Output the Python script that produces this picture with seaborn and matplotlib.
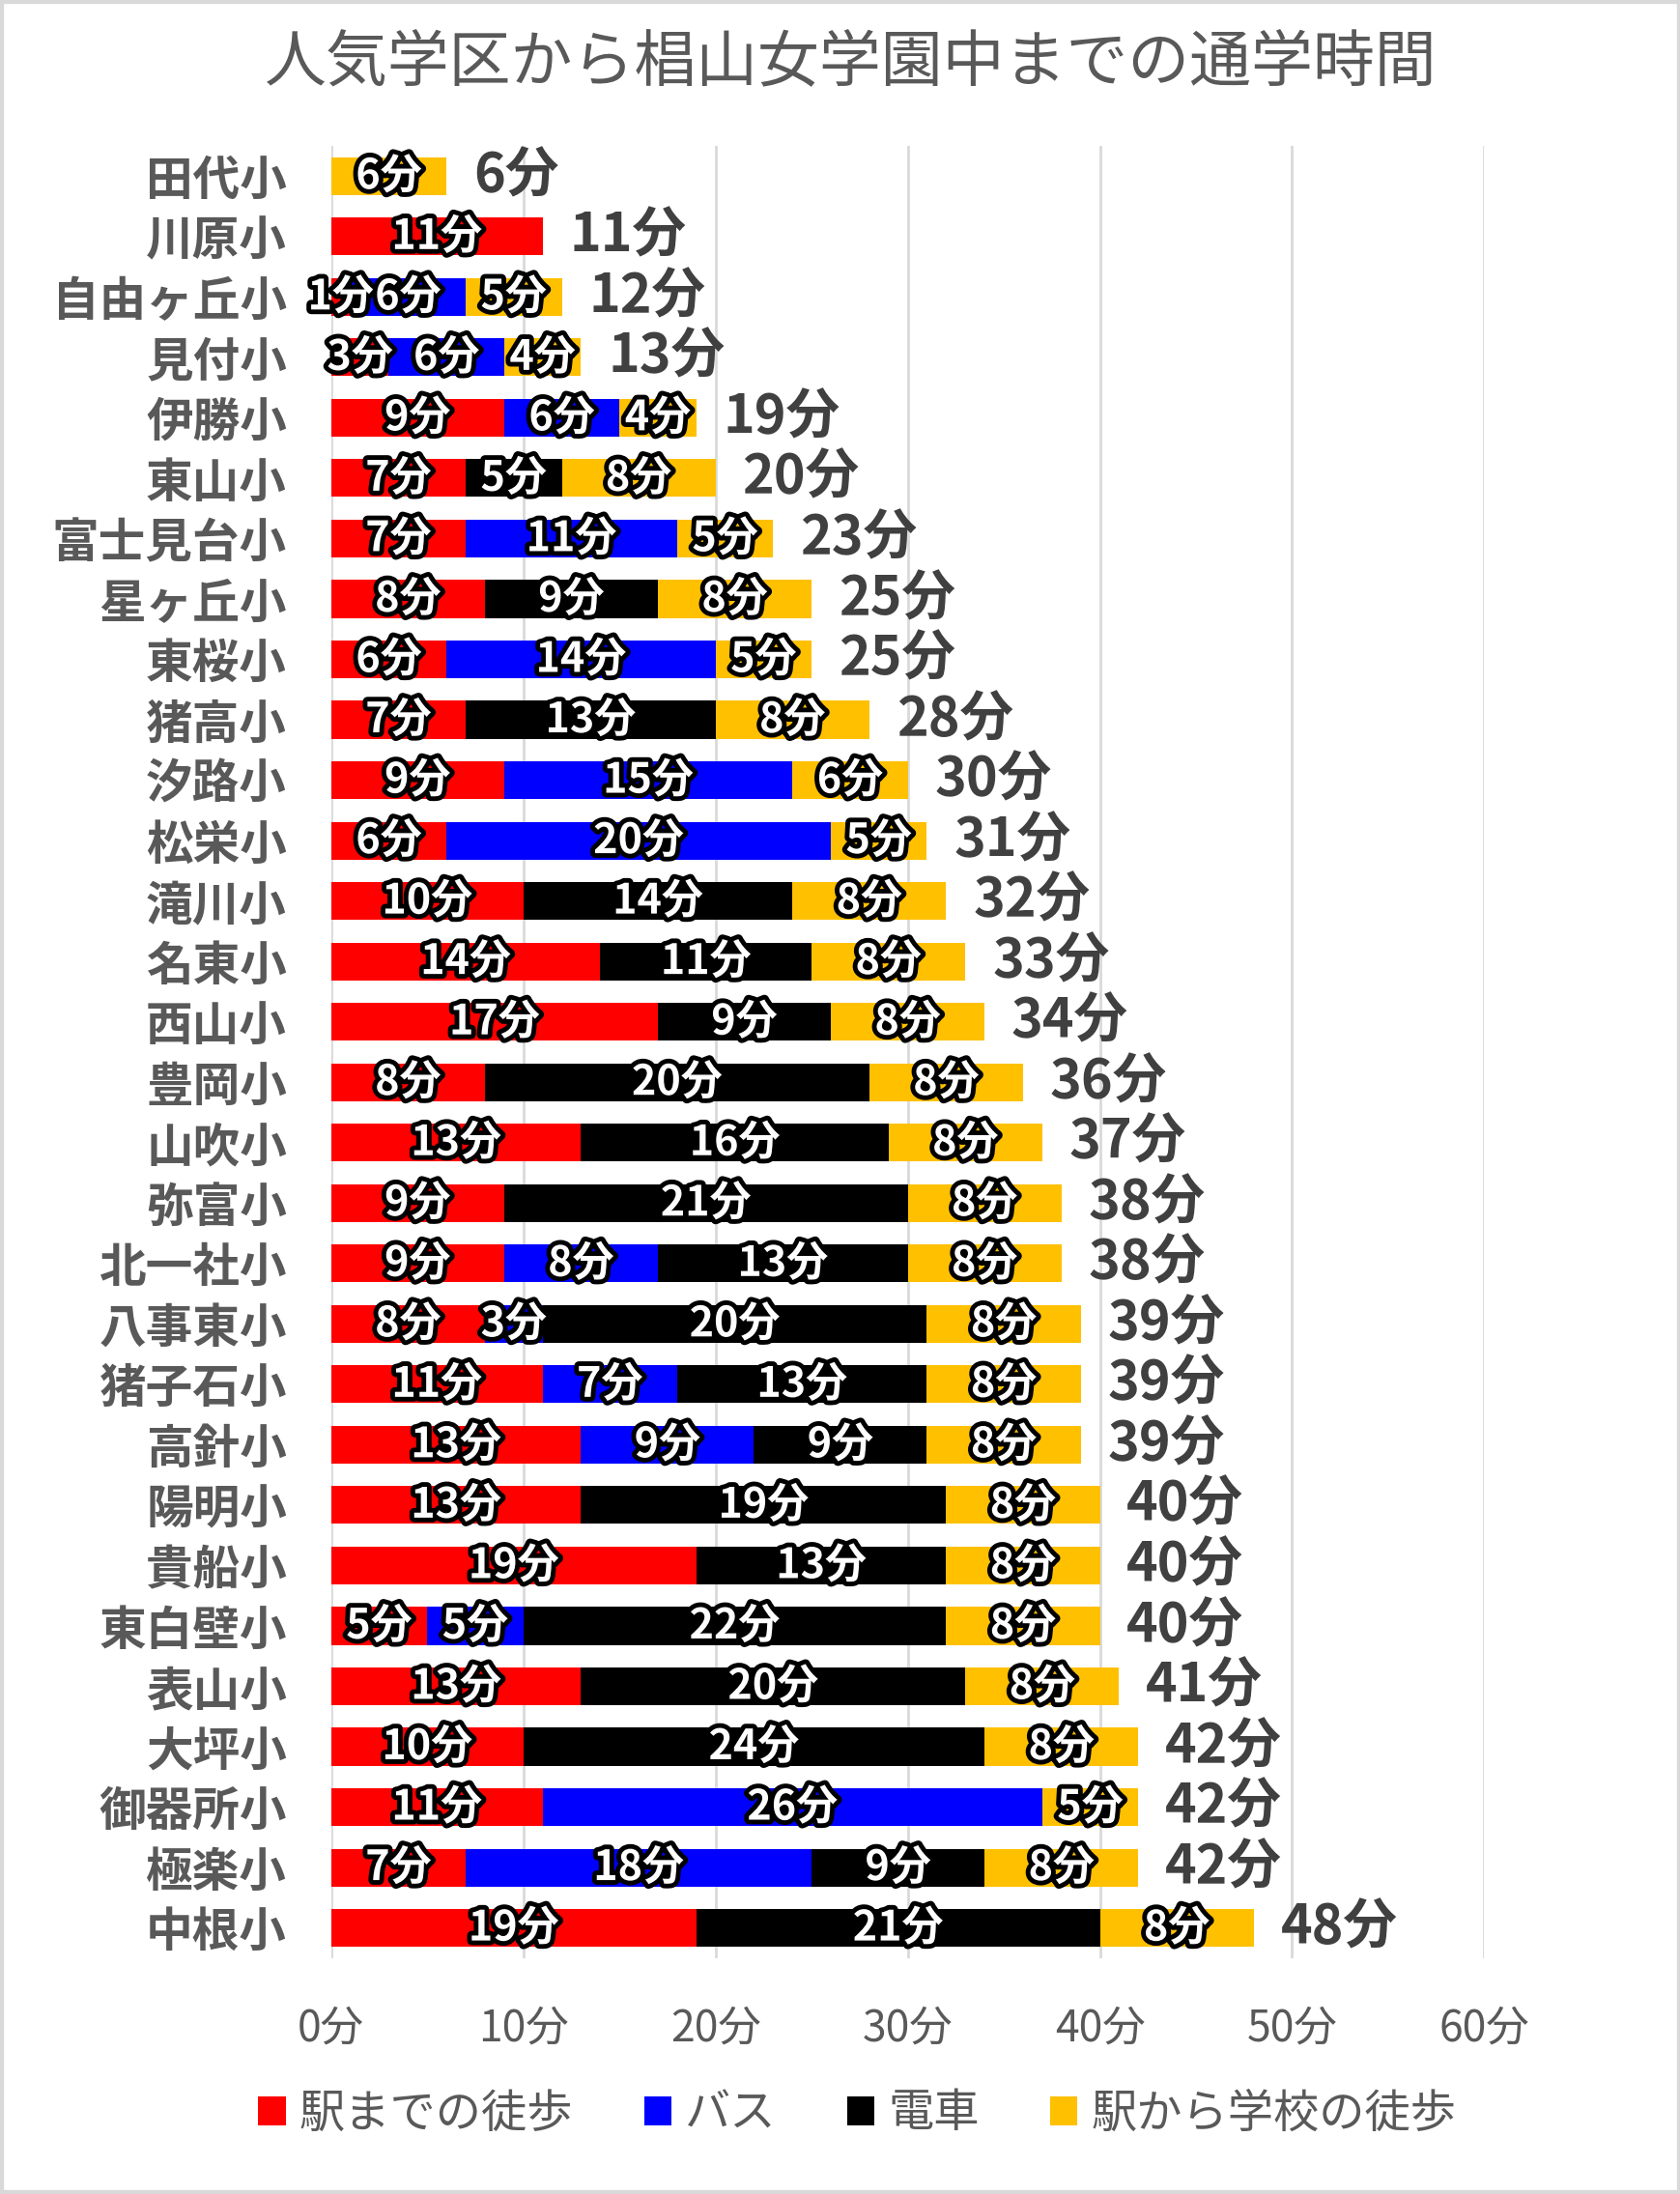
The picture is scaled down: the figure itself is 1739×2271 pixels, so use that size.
import matplotlib
matplotlib.use("Agg")
import matplotlib.pyplot as plt
import matplotlib.patheffects as pe
from matplotlib.patches import Patch, Rectangle
import seaborn as sns
import pandas as pd
import numpy as np

schools = ["田代小", "川原小", "自由ヶ丘小", "見付小", "伊勝小", "東山小", "富士見台小", "星ヶ丘小",
           "東桜小", "猪高小", "汐路小", "松栄小", "滝川小", "名東小", "西山小", "豊岡小", "山吹小",
           "弥富小", "北一社小", "八事東小", "猪子石小", "高針小", "陽明小", "貴船小", "東白壁小",
           "表山小", "大坪小", "御器所小", "極楽小", "中根小"]
walk_to_station = [0, 11, 1, 3, 9, 7, 7, 8, 6, 7, 9, 6, 10, 14, 17, 8, 13, 9, 9, 8, 11, 13, 13, 19, 5, 13, 10, 11, 7, 19]
bus = [0, 0, 6, 6, 6, 0, 11, 0, 14, 0, 15, 20, 0, 0, 0, 0, 0, 0, 8, 3, 7, 9, 0, 0, 5, 0, 0, 26, 18, 0]
train = [0, 0, 0, 0, 0, 5, 0, 9, 0, 13, 0, 0, 14, 11, 9, 20, 16, 21, 13, 20, 13, 9, 19, 13, 22, 20, 24, 0, 9, 21]
walk_to_school = [6, 0, 5, 4, 4, 8, 5, 8, 5, 8, 6, 5, 8, 8, 8, 8, 8, 8, 8, 8, 8, 8, 8, 8, 8, 8, 8, 5, 8, 8]
series_names = ["駅までの徒歩", "バス", "電車", "駅から学校の徒歩"]
colors = ["#FF0000", "#0000FF", "#000000", "#FFC000"]
x_ticks = [0, 10, 20, 30, 40, 50, 60]
x_tick_labels = ["0分", "10分", "20分", "30分", "40分", "50分", "60分"]
title = "人気学区から椙山女学園中までの通学時間"

sns.set_style("white")
plt.rcParams['font.family'] = ['Noto Sans CJK JP', 'DejaVu Sans']

df = pd.DataFrame({"school": schools, "s0": walk_to_station, "s1": bus, "s2": train, "s3": walk_to_school})
segs = ["s0", "s1", "s2", "s3"]
cum = df[segs].cumsum(axis=1)
for k, s in enumerate(segs):
    df["c" + str(k)] = cum[s]

fig = plt.figure(figsize=(17.4, 22.71), dpi=100)
ax = fig.add_axes([0.197, 0.1075, 0.686, 0.826])

for k in [3, 2, 1, 0]:
    sns.barplot(data=df, x="c" + str(k), y="school", orient="h", color=colors[k], saturation=1,
                width=0.625, linewidth=0, edgecolor="none", ax=ax, order=schools)

ax.set_xlim(0, 60)
ax.set_ylim(len(schools) - 0.5, -0.5)
ax.set_xticks(x_ticks)
ax.set_xticklabels(x_tick_labels)
ax.xaxis.grid(True, color="#d9d9d9", linewidth=2)
ax.yaxis.grid(False)
ax.set_axisbelow(True)
for sp in ax.spines.values():
    sp.set_visible(False)
ax.set_xlabel("")
ax.set_ylabel("")
ax.tick_params(axis="y", length=0, pad=33, labelsize=35, labelcolor="#595959")
ax.tick_params(axis="x", length=0, pad=36, labelsize=32, labelcolor="#595959")
for lab in ax.get_yticklabels():
    lab.set_fontweight("bold")

stroke = [pe.withStroke(linewidth=7, foreground="black")]
for i in range(len(schools)):
    left = 0
    for k, s in enumerate(segs):
        v = df.loc[i, s]
        if v > 0:
            ax.text(left + v / 2, i, f"{v}分", ha="center", va="center", color="white",
                    fontsize=31, fontweight="bold", path_effects=stroke, zorder=5)
        left += v
    total = df.loc[i, "c3"]
    ax.annotate(f"{total}分", xy=(total, i), xytext=(20, 0), textcoords="offset points",
                ha="left", va="center", fontsize=40, fontweight="bold", color="#404040", zorder=5)

fig.text(0.506, 0.971, title, ha="center", va="center", fontsize=46, color="#595959")

handles = [Patch(facecolor=c, edgecolor="none") for c in colors]
fig.legend(handles, series_names, loc="center", bbox_to_anchor=(0.51, 0.0365), ncol=4,
           frameon=False, fontsize=34, labelcolor="#595959", handlelength=0.6, handleheight=0.6,
           handletextpad=0.3, columnspacing=1.55)

fig.add_artist(Rectangle((0, 0), 1, 1, transform=fig.transFigure, fill=False,
                         edgecolor="#d9d9d9", linewidth=6))

fig.savefig("out.png", dpi=100)
